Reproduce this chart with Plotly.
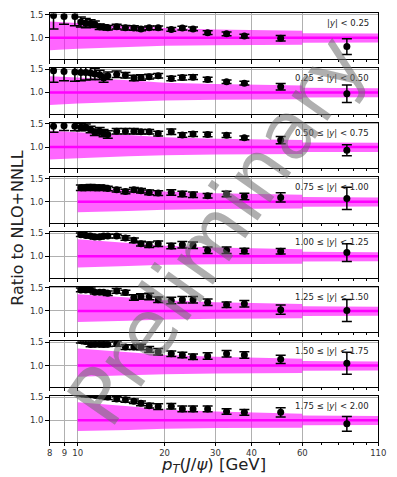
import math
import plotly.graph_objects as go

W, H = 397, 477

# ---------------- data ----------------
pt_full = [8.25, 8.97, 9.78, 10.26, 10.67, 11.09, 11.47, 11.92, 12.30, 12.72,
           13.65, 14.64, 15.66, 16.57, 17.69, 19.01, 21.1, 23.05, 25.1, 28.2,
           32.8, 37.8, 50.5, 85.6]
pt_fwd = [10.26, 10.67, 11.09, 11.47, 11.92, 12.30, 12.72, 13.65, 14.64, 15.66,
          16.57, 17.69, 19.01, 21.1, 23.05, 25.1, 28.2, 32.8, 37.8, 50.5, 85.6]

labels = ["|<i>y</i>| < 0.25", "0.25 ≤ |<i>y</i>| < 0.50", "0.50 ≤ |<i>y</i>| < 0.75",
          "0.75 ≤ |<i>y</i>| < 1.00", "1.00 ≤ |<i>y</i>| < 1.25", "1.25 ≤ |<i>y</i>| < 1.50",
          "1.50 ≤ |<i>y</i>| < 1.75", "1.75 ≤ |<i>y</i>| < 2.00"]

ratio_1 = [1.48, 1.46, 1.46, 1.34, 1.315, 1.31, 1.29, 1.24, 1.23, 1.215, 1.24, 1.215,
           1.21, 1.19, 1.215, 1.215, 1.18, 1.21, 1.19, 1.11, 1.086, 1.036, 0.99, 0.81]
err_1 = [0.29, 0.17, 0.20, 0.11, 0.10, 0.08, 0.07, 0.06, 0.05, 0.05, 0.05, 0.05,
         0.05, 0.04, 0.04, 0.04, 0.04, 0.04, 0.04, 0.04, 0.04, 0.04, 0.06, 0.17]
ratio_2 = [1.47, 1.45, 1.44, 1.43, 1.43, 1.42, 1.40, 1.38, 1.31, 1.36, 1.39, 1.37,
           1.31, 1.32, 1.34, 1.36, 1.30, 1.32, 1.33, 1.28, 1.23, 1.20, 1.12, 0.97]
err_2 = [0.25, 0.20, 0.20, 0.18, 0.16, 0.14, 0.12, 0.10, 0.09, 0.08, 0.07, 0.06,
         0.06, 0.06, 0.05, 0.05, 0.05, 0.05, 0.05, 0.05, 0.04, 0.04, 0.07, 0.19]
ratio_3 = [1.45, 1.46, 1.45, 1.43, 1.43, 1.38, 1.32, 1.34, 1.30, 1.27, 1.34, 1.34,
           1.34, 1.33, 1.33, 1.29, 1.33, 1.26, 1.28, 1.27, 1.255, 1.20, 1.15, 0.93]
err_3 = [0.13, 0.10, 0.10, 0.08, 0.07, 0.07, 0.07, 0.08, 0.08, 0.08, 0.06, 0.06,
         0.06, 0.05, 0.05, 0.05, 0.06, 0.05, 0.05, 0.05, 0.05, 0.04, 0.08, 0.12]
ratio_4 = [1.30, 1.30, 1.31, 1.30, 1.30, 1.30, 1.285, 1.257, 1.22, 1.257, 1.235,
           1.20, 1.185, 1.20, 1.165, 1.15, 1.128, 1.165, 1.114, 1.092, 1.071]
err_4 = [0.06, 0.06, 0.06, 0.06, 0.06, 0.05, 0.05, 0.05, 0.05, 0.05, 0.05,
         0.05, 0.05, 0.06, 0.06, 0.06, 0.05, 0.06, 0.07, 0.10, 0.24]
ratio_5 = [1.466, 1.452, 1.438, 1.416, 1.416, 1.438, 1.438, 1.438, 1.395, 1.345, 1.273,
           1.251, 1.273, 1.223, 1.251, 1.238, 1.13, 1.13, 1.116, 1.109, 1.08]
err_5 = [0.04, 0.04, 0.04, 0.04, 0.04, 0.04, 0.04, 0.04, 0.05, 0.05, 0.05,
         0.06, 0.06, 0.06, 0.07, 0.07, 0.07, 0.07, 0.06, 0.06, 0.19]
ratio_6 = [1.455, 1.455, 1.455, 1.404, 1.404, 1.404, 1.382, 1.433, 1.397, 1.29, 1.311,
           1.311, 1.24, 1.225, 1.24, 1.24, 1.19, 1.133, 1.154, 1.026, 1.01]
err_6 = [0.04, 0.04, 0.04, 0.04, 0.04, 0.04, 0.05, 0.05, 0.05, 0.06, 0.06,
         0.07, 0.06, 0.07, 0.07, 0.07, 0.07, 0.06, 0.07, 0.10, 0.24]
ratio_7 = [1.54, 1.52, 1.457, 1.46, 1.46, 1.457, 1.46, 1.47, 1.40, 1.40, 1.40,
           1.35, 1.30, 1.256, 1.227, 1.19, 1.206, 1.256, 1.227, 1.135, 1.05]
err_7 = [0.05, 0.05, 0.05, 0.05, 0.05, 0.05, 0.05, 0.05, 0.05, 0.05, 0.06,
         0.06, 0.07, 0.06, 0.06, 0.06, 0.07, 0.07, 0.07, 0.09, 0.24]
ratio_8 = [1.58, 1.56, 1.55, 1.54, 1.53, 1.52, 1.50, 1.46, 1.44, 1.41, 1.365,
           1.315, 1.294, 1.30, 1.245, 1.245, 1.245, 1.19, 1.17, 1.17, 0.923]
err_8 = [0.05, 0.05, 0.05, 0.05, 0.05, 0.05, 0.05, 0.05, 0.05, 0.05, 0.05,
         0.05, 0.06, 0.06, 0.06, 0.06, 0.06, 0.06, 0.06, 0.10, 0.16]

# theory band (NLO+NNLL uncertainty relative to central value)
band_x_central = [8, 10, 15, 20, 30, 60]
band_x_forward = [10, 15, 20, 30, 60]
band_lo = [[0.73, 0.76, 0.80, 0.825, 0.84, 0.85],
           [0.73, 0.76, 0.80, 0.825, 0.84, 0.85],
           [0.73, 0.76, 0.80, 0.825, 0.84, 0.85],
           [0.77, 0.80, 0.825, 0.84, 0.85],
           [0.76, 0.79, 0.815, 0.83, 0.84],
           [0.76, 0.79, 0.815, 0.83, 0.84],
           [0.76, 0.79, 0.815, 0.83, 0.84],
           [0.765, 0.79, 0.815, 0.83, 0.84]]
band_hi = [[1.35, 1.32, 1.26, 1.21, 1.18, 1.15],
           [1.35, 1.32, 1.26, 1.21, 1.18, 1.15],
           [1.35, 1.32, 1.26, 1.21, 1.18, 1.15],
           [1.29, 1.26, 1.22, 1.18, 1.15],
           [1.37, 1.29, 1.23, 1.19, 1.15],
           [1.36, 1.29, 1.23, 1.19, 1.15],
           [1.37, 1.29, 1.23, 1.19, 1.15],
           [1.39, 1.30, 1.23, 1.19, 1.14]]
tail_x = [60, 110]
tail_lo = [0.89, 0.895]
tail_hi = [1.10, 1.09]

ratios = [ratio_1, ratio_2, ratio_3, ratio_4, ratio_5, ratio_6, ratio_7, ratio_8]
errs = [err_1, err_2, err_3, err_4, err_5, err_6, err_7, err_8]
pts = [pt_full, pt_full, pt_full, pt_fwd, pt_fwd, pt_fwd, pt_fwd, pt_fwd]
band_xs = [band_x_central] * 3 + [band_x_forward] * 5

x_ticks = [8, 9, 10, 20, 30, 40, 60, 110]
x_minor = [50, 70, 80, 90, 100]
y_ticks = [1.0, 1.5]

# ---------------- layout geometry (pixels) ----------------
LEFT, RIGHT = 48, 386
TOP0, PH, STEP = 9.5, 46.0, 55.1
Y_RANGE = [0.54, 1.526]
BAND_FILL = "rgba(255,0,255,0.6)"
FONT = "DejaVu Sans"

fig = go.Figure()
layout = dict(width=W, height=H, margin=dict(l=0, r=0, t=0, b=0),
              paper_bgcolor="white", plot_bgcolor="white", showlegend=False,
              font=dict(family=FONT, color="#222"))
annotations = []

for k in range(8):
    ax = "" if k == 0 else str(k + 1)
    xa, ya = "x" + ax, "y" + ax
    top = TOP0 + STEP * k
    bot = top + PH
    bx = band_xs[k]
    fig.add_trace(go.Scatter(x=bx + bx[::-1], y=band_hi[k] + band_lo[k][::-1],
                             fill="toself", fillcolor=BAND_FILL, mode="none",
                             xaxis=xa, yaxis=ya, hoverinfo="skip"))
    fig.add_trace(go.Scatter(x=tail_x + tail_x[::-1], y=tail_hi + tail_lo[::-1],
                             fill="toself", fillcolor=BAND_FILL, mode="none",
                             xaxis=xa, yaxis=ya, hoverinfo="skip"))
    fig.add_trace(go.Scatter(x=[bx[0], tail_x[-1]], y=[1.0, 1.0], mode="lines",
                             line=dict(color="#ff00ff", width=2.5),
                             xaxis=xa, yaxis=ya, hoverinfo="skip"))
    fig.add_trace(go.Scatter(x=pts[k], y=ratios[k], mode="markers",
                             marker=dict(color="black", size=7),
                             error_y=dict(type="data", array=errs[k], visible=True,
                                          color="black", thickness=1.5, width=5),
                             xaxis=xa, yaxis=ya))
    layout["xaxis" + ax] = dict(
        type="log", range=[math.log10(8), math.log10(110)],
        domain=[LEFT / W, RIGHT / W], anchor=ya,
        tickmode="array", tickvals=x_ticks, ticktext=[str(v) for v in x_ticks],
        showticklabels=(k == 7), ticks="outside", ticklen=3.5, tickwidth=1,
        tickcolor="black", tickfont=dict(size=8.5, color="#333"),
        showgrid=True, gridcolor="#b0b0b0", gridwidth=1,
        showline=True, linecolor="black", linewidth=1, mirror=True,
        minor=dict(tickmode="array", tickvals=x_minor, ticks="outside",
                   ticklen=2, tickcolor="black", showgrid=False),
        zeroline=False)
    layout["yaxis" + ax] = dict(
        range=Y_RANGE, domain=[1 - bot / H, 1 - top / H], anchor=xa,
        tickmode="array", tickvals=y_ticks, ticktext=["1.0", "1.5"],
        ticks="outside", ticklen=3.5, tickwidth=1, tickcolor="black",
        tickfont=dict(size=8.5, color="#333"),
        showgrid=True, gridcolor="#b0b0b0", gridwidth=1,
        showline=True, linecolor="black", linewidth=1, mirror=True, zeroline=False)
    annotations.append(dict(text=labels[k], xref="paper", yref="paper",
                            x=378 / W, y=1 - (top + 10) / H, xanchor="right",
                            yanchor="middle", showarrow=False,
                            font=dict(size=8.5, color="#222", family=FONT)))

annotations.append(dict(text="Ratio to NLO+NNLL", xref="paper", yref="paper",
                        x=14 / W, y=1 - 226 / H, textangle=-90, showarrow=False,
                        xanchor="center", yanchor="middle",
                        font=dict(size=16, color="#222", family=FONT)))
annotations.append(dict(text="<i>p</i><sub><i>T</i></sub>(<i>J</i>/<i>ψ</i>) [GeV]",
                        xref="paper", yref="paper", x=217 / W, y=1 - 465.5 / H,
                        showarrow=False, xanchor="center", yanchor="middle",
                        font=dict(size=16.5, color="#222", family=FONT)))
annotations.append(dict(text="Preliminary", xref="paper", yref="paper",
                        x=220 / W, y=1 - 228 / H, textangle=-55, showarrow=False,
                        xanchor="center", yanchor="middle",
                        font=dict(size=80, color="rgba(110,110,110,0.55)", family=FONT)))
layout["annotations"] = annotations
fig.update_layout(**layout)
fig.write_html("out.html", config={"displayModeBar": False},
               post_script="document.body.style.margin='0';document.body.style.overflow='hidden';")
